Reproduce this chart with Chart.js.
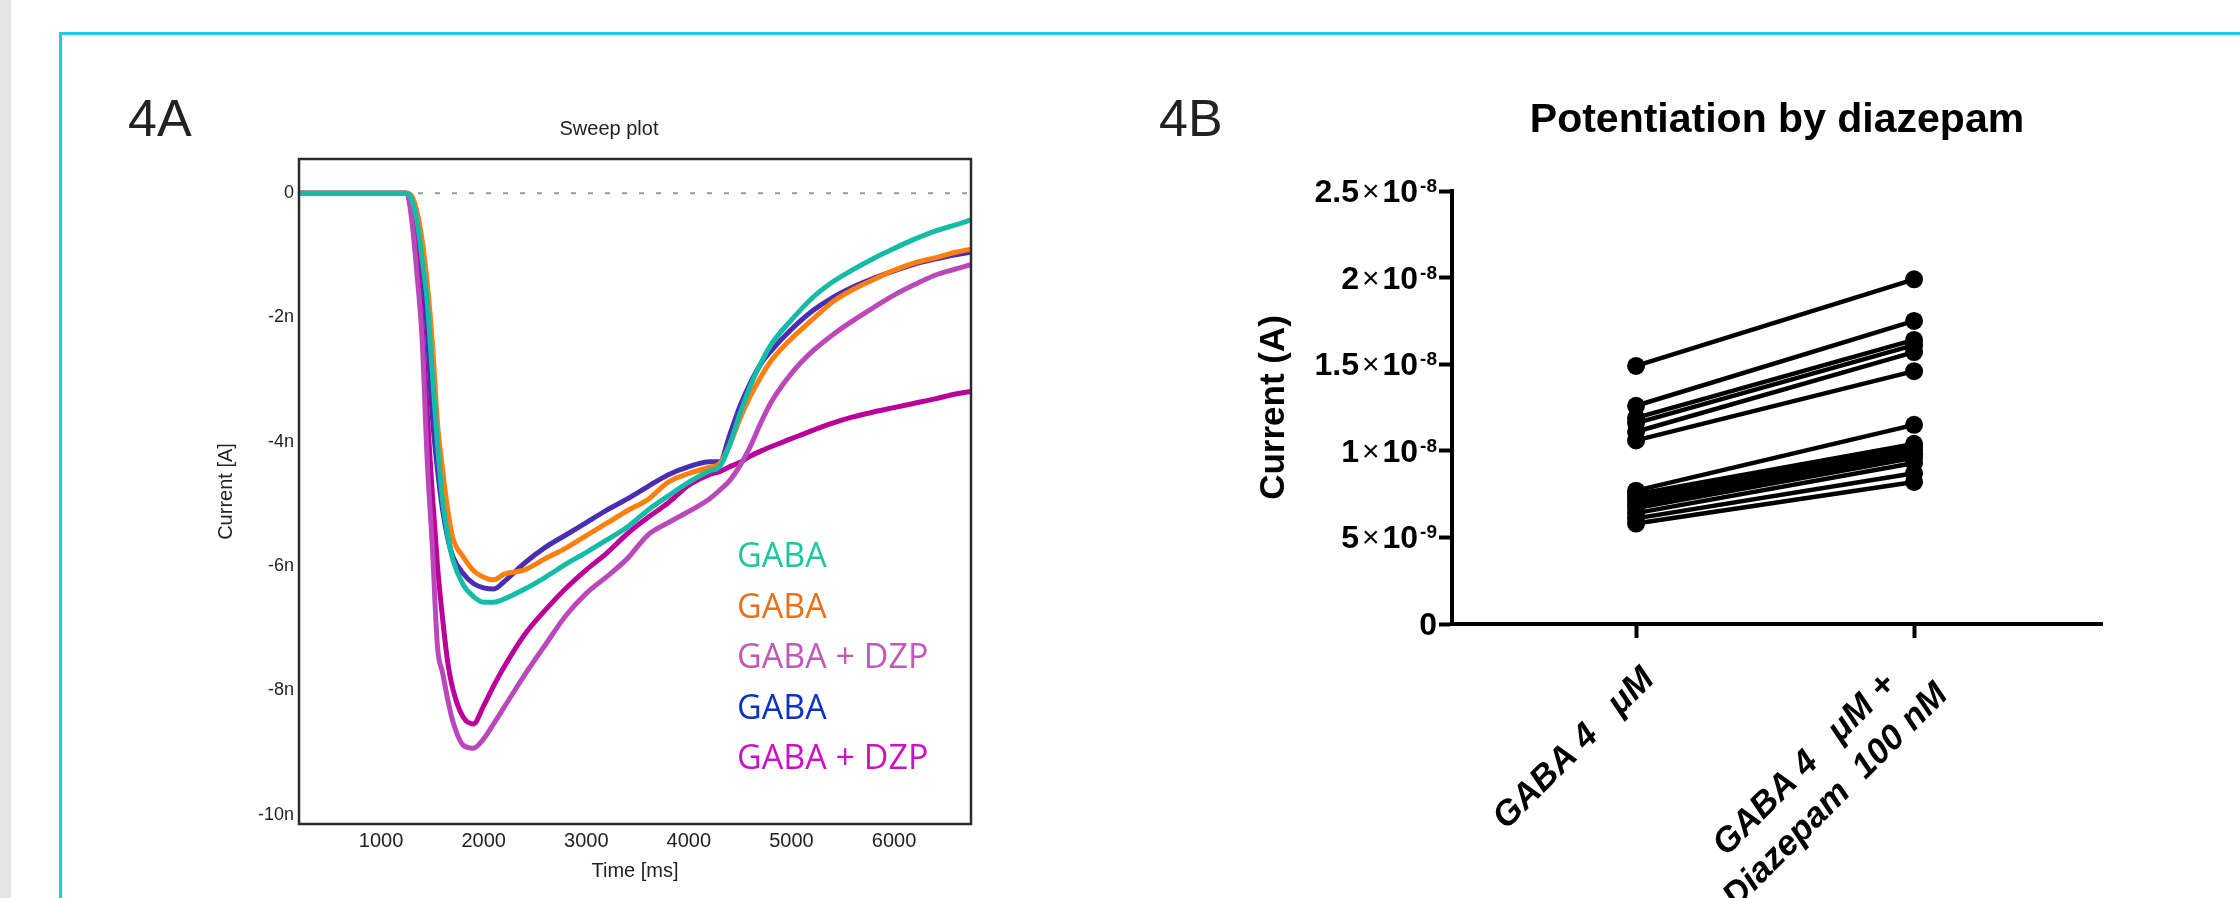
<!DOCTYPE html>
<html lang="en">
<head>
<meta charset="UTF-8">
<title>Figure 4 - GABA currents and diazepam</title>
<script src="https://cdn.jsdelivr.net/npm/chart.js"></script>
<style>
  html, body { margin: 0; padding: 0; background: #fff; }
  body { width: 2240px; height: 898px; position: relative; overflow: hidden; font-family: "Liberation Sans", Arial, sans-serif; }
  .strip { position: absolute; left: 0; top: 0; width: 11px; height: 898px; background: #e3e4e6; }
  .frame-top { position: absolute; left: 59px; top: 32px; width: 2181px; height: 3px; background: #27c3f3; }
  .frame-left { position: absolute; left: 59px; top: 32px; width: 3px; height: 866px; background: #27c3f3; }
  .panel { position: absolute; top: 92px; font-size: 52px; line-height: 52px; color: #222; }
  .box { position: absolute; top: 0; width: 1120px; height: 898px; }
</style>
</head>
<body>
  <div class="strip"></div>
  <div class="frame-top"></div>
  <div class="frame-left"></div>
  <div class="panel" style="left:128px;">4A</div>
  <div class="panel" style="left:1159px;">4B</div>
  <div class="box" style="left:0;"><canvas id="sweep"></canvas></div>
  <div class="box" style="left:1120px;"><canvas id="potentiation"></canvas></div>

<script>
  // ---- 4A: sweep plot, current (nA) against time (ms)
  const timeMs = [200, 1200, 1250, 1300, 1350, 1400, 1450, 1500, 1550, 1600,
    1650, 1700, 1800, 1900, 2000, 2100, 2200, 2400, 2600, 2800,
    3000, 3200, 3400, 3600, 3800, 4000, 4200, 4300, 4400, 4500,
    4600, 4700, 4800, 5000, 5200, 5400, 5600, 5800, 6000, 6200,
    6400, 6600, 6750];

  const gabaTeal = [0, 0, 0, -0.1, -0.45, -1.05, -1.75, -2.9, -4.05, -4.95,
    -5.5, -5.9, -6.3, -6.49, -6.58, -6.58, -6.53, -6.37, -6.18, -5.97,
    -5.78, -5.58, -5.37, -5.1, -4.87, -4.65, -4.47, -4.4, -4.04, -3.54,
    -3.1, -2.74, -2.44, -2.04, -1.69, -1.43, -1.23, -1.05, -0.89, -0.74,
    -0.61, -0.51, -0.43];

  const gabaOrange = [0, 0, 0, -0.05, -0.3, -0.75, -1.45, -2.4, -3.7, -4.45,
    -5.1, -5.55, -5.85, -6.07, -6.18, -6.22, -6.13, -6.06, -5.88, -5.71,
    -5.51, -5.31, -5.11, -4.93, -4.65, -4.51, -4.41, -4.35, -4.04, -3.62,
    -3.26, -2.96, -2.7, -2.34, -2.04, -1.75, -1.55, -1.39, -1.24, -1.12,
    -1.04, -0.95, -0.9];

  const dzpLight = [0, 0, 0, -0.45, -1.3, -2.35, -4.3, -5.7, -7.3, -7.72,
    -8.15, -8.5, -8.88, -8.93, -8.78, -8.53, -8.27, -7.75, -7.27, -6.8,
    -6.44, -6.17, -5.88, -5.5, -5.3, -5.12, -4.92, -4.78, -4.62, -4.38,
    -4.07, -3.7, -3.37, -2.9, -2.55, -2.28, -2.05, -1.84, -1.64, -1.47,
    -1.32, -1.22, -1.15];

  const gabaBlue = [0, 0, 0, -0.1, -0.4, -1.1, -2.2, -3.6, -4.45, -5.1,
    -5.55, -5.85, -6.12, -6.28, -6.35, -6.37, -6.25, -5.95, -5.7, -5.5,
    -5.3, -5.1, -4.92, -4.72, -4.53, -4.4, -4.32, -4.32, -3.88, -3.42,
    -3.05, -2.75, -2.54, -2.19, -1.9, -1.68, -1.51, -1.37, -1.25, -1.14,
    -1.06, -0.99, -0.95];

  const dzpDark = [0, 0, 0, -0.3, -1.0, -2.1, -3.55, -4.85, -6.0, -6.85,
    -7.55, -7.98, -8.43, -8.54, -8.25, -7.92, -7.62, -7.1, -6.71, -6.36,
    -6.06, -5.79, -5.48, -5.22, -4.98, -4.7, -4.53, -4.48, -4.4, -4.33,
    -4.23, -4.15, -4.08, -3.95, -3.82, -3.7, -3.6, -3.52, -3.45, -3.38,
    -3.31, -3.23, -3.19];

  const sweepLabels = ['GABA', 'GABA', 'GABA + DZP', 'GABA', 'GABA + DZP'];
  const timeTicks = [1000, 2000, 3000, 4000, 5000, 6000];
  const currentTicksA = [0, -2, -4, -6, -8, -10];

  // ---- 4B: paired currents (A)
  const conditions = [['GABA 4   μM'], ['GABA 4   μM +', 'Diazepam  100 nM']];
  const gaba4uM = [1.49e-8, 1.26e-8, 1.19e-8, 1.16e-8, 1.11e-8, 1.06e-8,
    7.7e-9, 7.5e-9, 7.3e-9, 7.1e-9, 6.9e-9, 6.7e-9, 6.4e-9, 6.1e-9, 5.8e-9];
  const gabaDiazepam = [1.99e-8, 1.75e-8, 1.64e-8, 1.61e-8, 1.57e-8, 1.46e-8,
    1.15e-8, 1.04e-8, 1.02e-8, 1.0e-8, 9.8e-9, 9.6e-9, 9.3e-9, 8.7e-9, 8.2e-9];
  const currentTicksB = [0, 5e-9, 1e-8, 1.5e-8, 2e-8, 2.5e-8];
  const tickMantissa = ['0', '5', '1', '1.5', '2', '2.5'];
  const tickExponent = ['', '-9', '-8', '-8', '-8', '-8'];

  Chart.defaults.font.family = '"Liberation Sans", Arial, sans-serif';
  Chart.defaults.color = '#222';

  const traceColors = ['#14bba6', '#ff7f0e', '#bb48bb', '#4b2db4', '#bb0099'];
  const legendColors = ['#19c89c', '#e8721c', '#c05ab8', '#0a32c8', '#cc10c4'];
  const traces = [gabaTeal, gabaOrange, dzpLight, gabaBlue, dzpDark];

  const sweepDecor = {
    id: 'sweepDecor',
    beforeDatasetsDraw(chart) {
      const {ctx, chartArea, scales} = chart;
      const y0 = scales.y.getPixelForValue(0);
      ctx.save();
      ctx.strokeStyle = '#9a9a9a';
      ctx.lineWidth = 2;
      ctx.setLineDash([5, 12]);
      ctx.beginPath();
      ctx.moveTo(chartArea.left, y0);
      ctx.lineTo(chartArea.right, y0);
      ctx.stroke();
      ctx.restore();
    },
    afterDraw(chart) {
      const {ctx, chartArea} = chart;
      ctx.save();
      ctx.strokeStyle = '#2b2b2b';
      ctx.lineWidth = 2.5;
      ctx.strokeRect(chartArea.left, chartArea.top, chartArea.right - chartArea.left, chartArea.bottom - chartArea.top);
      ctx.fillStyle = '#222';
      ctx.textAlign = 'center';
      ctx.font = '20px "Liberation Sans", Arial, sans-serif';
      ctx.fillText('Sweep plot', 609, 135);
      ctx.textAlign = 'left';
      ctx.font = '34px "Open Sans", sans-serif';
      sweepLabels.forEach((label, i) => {
        ctx.fillStyle = legendColors[i];
        ctx.fillText(label, chartArea.left + 438, 567 + i * 50.5);
      });
      ctx.restore();
    }
  };

  new Chart(document.getElementById('sweep'), {
    type: 'line',
    data: {
      datasets: traces.map((vals, k) => ({
        label: sweepLabels[k],
        data: timeMs.map((t, i) => ({x: t, y: vals[i]})),
        borderColor: traceColors[k],
        borderWidth: 5,
        pointRadius: 0,
        cubicInterpolationMode: 'monotone'
      }))
    },
    options: {
      responsive: true,
      maintainAspectRatio: false,
      devicePixelRatio: 1,
      animation: false,
      events: [],
      layout: { padding: { top: 159, right: 149, bottom: 15, left: 214 } },
      plugins: { legend: { display: false }, tooltip: { enabled: false } },
      scales: {
        x: {
          type: 'linear',
          min: 200,
          max: 6750,
          afterBuildTicks: s => { s.ticks = timeTicks.map(v => ({value: v})); },
          afterFit: s => { s.height = 59; },
          grid: { display: false, drawTicks: false },
          border: { display: false },
          ticks: { padding: 5, font: { size: 20 }, callback: v => String(v) },
          title: { display: true, text: 'Time [ms]', font: { size: 20 }, padding: { top: 0, bottom: 0 } }
        },
        y: {
          min: -10.15,
          max: 0.55,
          afterBuildTicks: s => { s.ticks = currentTicksA.map(v => ({value: v})); },
          afterFit: s => { s.width = 85; },
          grid: { display: false, drawTicks: false },
          border: { display: false },
          ticks: { padding: 5, font: { size: 18 }, callback: v => v === 0 ? '0' : v + 'n' },
          title: { display: true, text: 'Current [A]', font: { size: 20 }, padding: { top: 0, bottom: 0 } }
        }
      }
    },
    plugins: [sweepDecor]
  });

  const pairDecor = {
    id: 'pairDecor',
    afterDraw(chart) {
      const {ctx, chartArea, scales} = chart;
      const fam = '"Liberation Sans", Arial, sans-serif';
      ctx.save();
      ctx.fillStyle = '#000';
      ctx.textAlign = 'center';
      ctx.font = 'bold 41px ' + fam;
      ctx.fillText('Potentiation by diazepam', (chartArea.left + chartArea.right) / 2, 132);

      // y tick labels: mantissa x 10 with a raised exponent
      ctx.textAlign = 'right';
      currentTicksB.forEach((v, i) => {
        let x = chartArea.left - 15;
        const y = scales.y.getPixelForValue(v) + 11;
        if (tickExponent[i]) {
          ctx.font = 'bold 19px ' + fam;
          ctx.fillText(tickExponent[i], x, y - 10);
          x -= ctx.measureText(tickExponent[i]).width + 2;
          ctx.font = 'bold 32px ' + fam;
          ctx.fillText('10', x, y);
          x -= ctx.measureText('10').width + 3;
          ctx.font = '30px ' + fam;
          ctx.fillText('×', x, y - 1);
          x -= ctx.measureText('×').width + 3;
        }
        ctx.font = 'bold 32px ' + fam;
        ctx.fillText(tickMantissa[i], x, y);
      });

      // rotated category labels: block hangs from its right-middle point, lines centred
      const lh = 44;
      ctx.font = 'italic bold 35px ' + fam;
      ctx.textAlign = 'center';
      ctx.textBaseline = 'middle';
      conditions.forEach((lines, i) => {
        const px = scales.x.getPixelForValue(i);
        const w = Math.max(...lines.map(l => ctx.measureText(l).width));
        ctx.save();
        ctx.translate(px + 13, chartArea.bottom + 50);
        ctx.rotate(-Math.PI / 4);
        lines.forEach((line, j) => ctx.fillText(line, -w / 2, (j - (lines.length - 1) / 2) * lh));
        ctx.restore();
      });
      ctx.restore();
    }
  };

  new Chart(document.getElementById('potentiation'), {
    type: 'line',
    data: {
      datasets: gaba4uM.map((v, i) => ({
        data: [{x: 0, y: v}, {x: 1, y: gabaDiazepam[i]}],
        borderColor: '#000',
        borderWidth: 4.5,
        pointRadius: 9,
        pointBackgroundColor: '#000',
        pointBorderWidth: 0
      }))
    },
    options: {
      responsive: true,
      maintainAspectRatio: false,
      devicePixelRatio: 1,
      animation: false,
      events: [],
      layout: { padding: { top: 191, right: 138, bottom: 0, left: 133 } },
      plugins: { legend: { display: false }, tooltip: { enabled: false } },
      scales: {
        x: {
          type: 'linear',
          min: -0.662,
          max: 1.676,
          afterBuildTicks: s => { s.ticks = conditions.map((c, i) => ({value: i})); },
          afterFit: s => { s.height = 274; },
          grid: { display: true, drawOnChartArea: false, drawTicks: true, tickLength: 14, tickWidth: 4, tickColor: '#000' },
          border: { display: true, width: 4, color: '#000' },
          ticks: { display: false }
        },
        y: {
          min: 0,
          max: 2.5e-8,
          afterBuildTicks: s => { s.ticks = currentTicksB.map(v => ({value: v})); },
          afterFit: s => { s.width = 199; },
          grid: { display: true, drawOnChartArea: false, drawTicks: true, tickLength: 13, tickWidth: 4, tickColor: '#000' },
          border: { display: true, width: 4, color: '#000' },
          ticks: { display: false },
          title: { display: true, text: 'Current (A)', color: '#000', font: { size: 35, weight: 'bold' }, padding: { top: 0, bottom: 0 } }
        }
      }
    },
    plugins: [pairDecor]
  });
</script>
</body>
</html>
